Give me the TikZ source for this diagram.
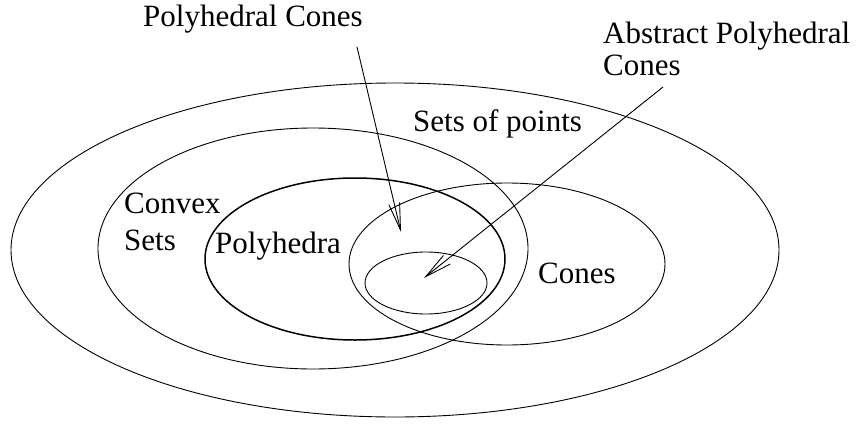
\documentclass[tikz,border=0pt]{standalone}
\usepackage{fontspec}
\setmainfont{Liberation Serif}
\usetikzlibrary{arrows.meta,positioning}
\tikzset{
  setline/.style={line width=0.9pt, black},
  polyline/.style={line width=1.5pt, black},
  lbl/.style={anchor=base west, inner sep=0pt, font=\fontsize{31}{37}\selectfont},
  pointer/.style={line width=0.9pt, -{Straight Barb[length=27pt,width=11pt]}}
}
\begin{document}
\begin{tikzpicture}[x=1pt, y=-1pt]
\useasboundingbox (0,0) rectangle (856,423);
% the nested sets
\draw[setline] (395,250) ellipse (384 and 167);
\draw[setline] (313,248.5) ellipse (215 and 120.5);
\draw[polyline] (355,259) ellipse (150 and 81);
\draw[setline] (507,264) ellipse (158 and 81);
\draw[setline] (426,283) ellipse (61 and 31);

% labels (base of a two-line label is its last line)
\node[lbl] (points) at (413,131) {Sets of points};
\node[lbl, align=left] (convex) at (124,250) {Convex\\Sets};
\node[lbl] (polyhedra) at (215,253) {Polyhedra};
\node[lbl] (cones) at (538,283) {Cones};
\node[lbl] (polycones) at (143,26) {Polyhedral Cones};
\node[lbl, align=left, font=\fontsize{31}{32}\selectfont] (abscones) at (603,75) {Abstract Polyhedral\\Cones};

% pointers
\coordinate (pcfrom) at (357,47);
\coordinate (pcto) at (401,232);
\coordinate (acfrom) at (663,87);
\coordinate (acto) at (424,278);
\draw[pointer] (pcfrom) -- (pcto);
\draw[pointer] (acfrom) -- (acto);
\end{tikzpicture}
\end{document}
